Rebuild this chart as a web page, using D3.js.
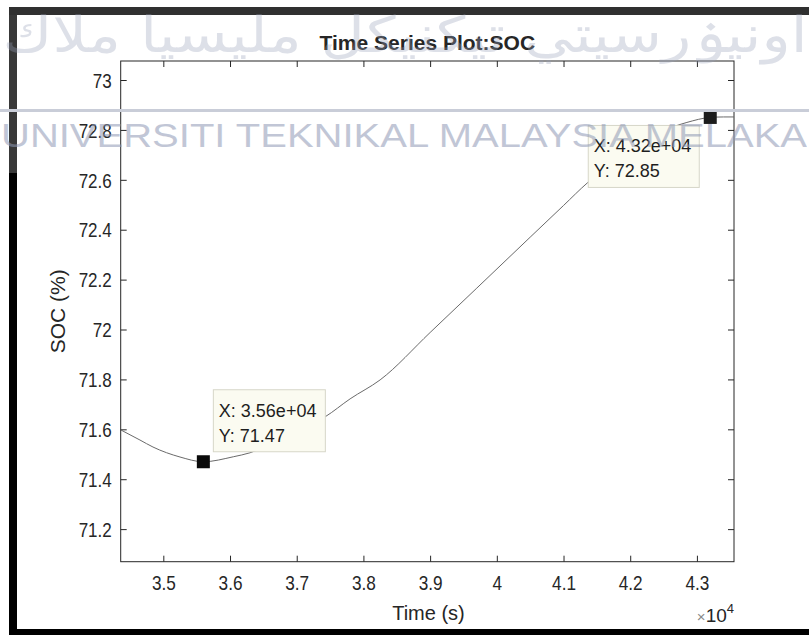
<!DOCTYPE html>
<html><head><meta charset="utf-8">
<script src="https://cdn.jsdelivr.net/npm/d3@7"></script>
<style>html,body{margin:0;padding:0;background:#fff;}svg{display:block;}</style>
</head><body>
<svg id="chart" width="809" height="635"></svg>
<script>
// ---- data ----
const timeSec = [34366, 34650, 34845, 35250, 35600, 36050, 36300, 36800, 37100, 37425, 37800, 38250, 39000, 39700, 40500, 41000, 41355, 41700, 42100, 42500, 42850, 43200, 43400, 43556];
const socPct  = [71.597, 71.557, 71.529, 71.489, 71.470, 71.490, 71.506, 71.565, 71.605, 71.650, 71.722, 71.798, 71.988, 72.166, 72.370, 72.497, 72.587, 72.660, 72.738, 72.797, 72.830, 72.850, 72.852, 72.852];
const xTicks = [35000, 36000, 37000, 38000, 39000, 40000, 41000, 42000, 43000];
const yTicks = [71.2, 71.4, 71.6, 71.8, 72.0, 72.2, 72.4, 72.6, 72.8, 73.0];
const tipX = [35600, 43200];
const tipY = [71.47, 72.85];
const titleText = "Time Series Plot:SOC";
const xLabel = "Time (s)";
const yLabel = "SOC (%)";
const watermarkLatin = "UNIVERSITI TEKNIKAL MALAYSIA MELAKA";
const watermarkJawi = "اونيۏرسيتي تيكنيكل مليسيا ملاك";

// ---- layout ----
const svg = d3.select("#chart");
const L = 120.7, R = 734, T = 61, B = 561.7;
const ink = "#262626";
const font = "'Liberation Sans', Arial, sans-serif";

const x = d3.scaleLinear().domain([34361, 43556]).range([L, R]);
const y = d3.scaleLinear().domain([71.0694, 73.0762]).range([B, T]);

// ---- outer frame ----
svg.append("rect").attr("x", 9).attr("y", 15).attr("width", 8).attr("height", 158).attr("fill", "#383838");
svg.append("rect").attr("x", 9).attr("y", 173).attr("width", 8).attr("height", 462).attr("fill", "#000");
svg.append("rect").attr("x", 9).attr("y", 7).attr("width", 800).attr("height", 8).attr("fill", "#303030");
svg.append("rect").attr("x", 9).attr("y", 629).attr("width", 800).attr("height", 6).attr("fill", "#000");

// ---- axes box ----
svg.append("rect").attr("x", L).attr("y", T).attr("width", R - L).attr("height", B - T)
  .attr("fill", "#fff").attr("stroke", ink).attr("stroke-width", 1);

function styleAxis(g) {
  g.select(".domain").remove();
  g.selectAll(".tick line").attr("stroke", ink).attr("stroke-width", 1);
}

const fmtX = d => d3.format("~g")(d / 1e4);
const gx = svg.append("g").attr("transform", `translate(0,${B})`)
  .call(d3.axisBottom(x).tickValues(xTicks).tickSize(-6).tickFormat(fmtX));
styleAxis(gx);
gx.selectAll(".tick text").attr("fill", ink).attr("font-family", font).attr("font-size", 20)
  .attr("y", 28.5).attr("dy", 0).attr("transform", "scale(0.86,1)");

const gxTop = svg.append("g").attr("transform", `translate(0,${T})`)
  .call(d3.axisTop(x).tickValues(xTicks).tickSize(-6).tickFormat(""));
styleAxis(gxTop);

const gy = svg.append("g").attr("transform", `translate(${L},0)`)
  .call(d3.axisLeft(y).tickValues(yTicks).tickSize(-6).tickFormat(d3.format("~g")));
styleAxis(gy);
gy.selectAll(".tick text").attr("fill", ink).attr("font-family", font).attr("font-size", 20)
  .attr("x", -9 / 0.85).attr("dy", "0.36em").attr("transform", "scale(0.85,1)");

const gyRight = svg.append("g").attr("transform", `translate(${R},0)`)
  .call(d3.axisRight(y).tickValues(yTicks).tickSize(-6).tickFormat(""));
styleAxis(gyRight);

// ---- line ----
const pts = timeSec.map((t, i) => [t, socPct[i]]);
svg.append("path").datum(pts)
  .attr("d", d3.line().x(d => x(d[0])).y(d => y(d[1])).curve(d3.curveMonotoneX))
  .attr("fill", "none").attr("stroke", "#6a6a6a").attr("stroke-width", 1);

// ---- data tips ----
const fmtE = v => {
  const s = v.toExponential(2);
  return s.replace(/e([+-])(\d)$/, "e$10$2");
};
const tipOffsets = [{dx: 10, dy: -72, w: 112}, {dx: -122, dy: 8, w: 111}];
tipX.forEach((tx, i) => {
  const mx = x(tx), my = y(tipY[i]);
  const o = tipOffsets[i];
  const bx = mx + o.dx, by = my + o.dy;
  svg.append("rect").attr("x", bx).attr("y", by).attr("width", o.w).attr("height", 62)
    .attr("fill", "#fbfbf1").attr("stroke", "#d6d6c8").attr("stroke-width", 1);
  svg.append("text").attr("x", bx + 5.5).attr("y", by + 27).attr("font-family", font)
    .attr("font-size", 18).attr("fill", "#1e1e1e").text("X: " + fmtE(tx));
  svg.append("text").attr("x", bx + 5.5).attr("y", by + 52).attr("font-family", font)
    .attr("font-size", 18).attr("fill", "#1e1e1e").text("Y: " + tipY[i].toFixed(2));
  svg.append("rect").attr("x", mx - 6.5).attr("y", my - 6.5).attr("width", 13).attr("height", 13)
    .attr("fill", i === 0 ? "#0a0a0a" : "#1c1c1c");
});

// ---- labels ----
svg.append("text").attr("x", (L + R) / 2).attr("y", 50).attr("text-anchor", "middle")
  .attr("font-family", font).attr("font-weight", "bold").attr("font-size", 21).attr("fill", ink)
  .text(titleText);

svg.append("text").attr("x", 428.5).attr("y", 620).attr("text-anchor", "middle")
  .attr("font-family", font).attr("font-size", 20).attr("fill", ink).text(xLabel);

svg.append("text").attr("transform", `translate(65,${(T + B) / 2}) rotate(-90)`)
  .attr("text-anchor", "middle").attr("font-family", font).attr("font-size", 21).attr("fill", ink)
  .text(yLabel);

const exp = svg.append("text").attr("x", R).attr("y", 622).attr("text-anchor", "end")
  .attr("font-family", font).attr("fill", ink);
exp.append("tspan").attr("font-size", 15).attr("fill", "#8a8a8a").text("×");
exp.append("tspan").attr("font-size", 19).text("10");
exp.append("tspan").attr("font-size", 13).attr("dy", -9).text("4");

// ---- watermark ----
svg.append("rect").attr("x", 0).attr("y", 109).attr("width", 809).attr("height", 3)
  .attr("fill", "#c9cdd8");
svg.append("text").attr("x", 405).attr("y", 52).attr("text-anchor", "middle")
  .attr("direction", "rtl").attr("font-family", "'DejaVu Sans', sans-serif").attr("font-size", 50)
  .attr("textLength", 805).attr("lengthAdjust", "spacingAndGlyphs")
  .attr("fill", "#9aa2ba").attr("opacity", 0.33).text(watermarkJawi);
svg.append("text").attr("x", 1).attr("y", 147).attr("font-family", font).attr("font-size", 33)
  .attr("textLength", 806).attr("lengthAdjust", "spacingAndGlyphs")
  .attr("fill", "#8f99b5").attr("opacity", 0.55).text(watermarkLatin);
</script>
</body></html>
